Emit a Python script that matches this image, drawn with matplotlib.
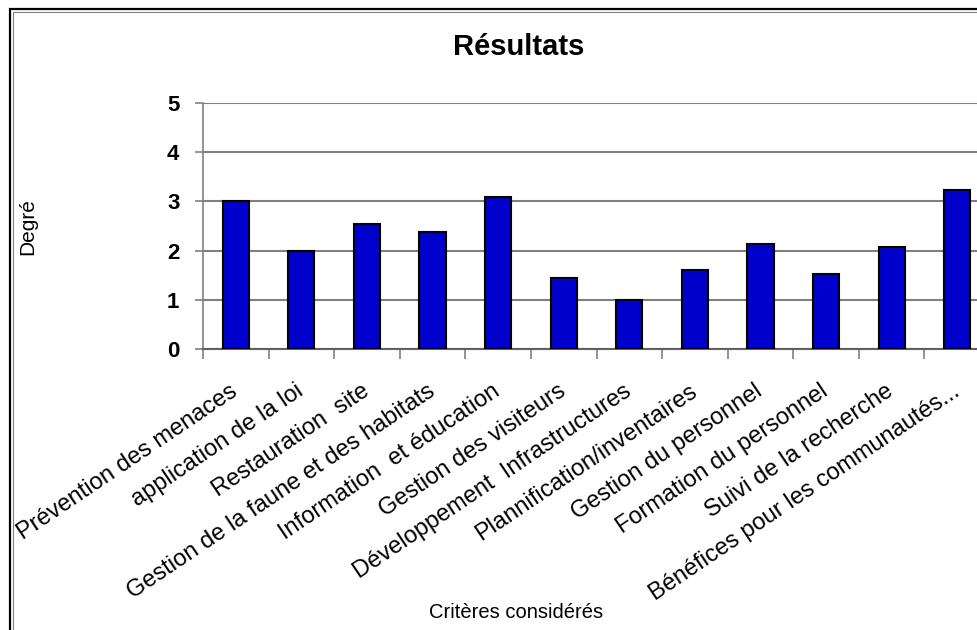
import matplotlib.pyplot as plt
from matplotlib.patches import Rectangle

# Criteria and their scores
criteres = [
    "Prévention des menaces",
    "application de la loi",
    "Restauration  site",
    "Gestion de la faune et des habitats",
    "Information  et éducation",
    "Gestion des visiteurs",
    "Développement  Infrastructures",
    "Plannification/inventaires",
    "Gestion du personnel",
    "Formation du personnel",
    "Suivi de la recherche",
    "Bénéfices pour les communautés...",
]
degres = [3.0, 2.0, 2.55, 2.38, 3.08, 1.45, 1.0, 1.61, 2.14, 1.53, 2.07, 3.24]
y_ticks = [0, 1, 2, 3, 4, 5]

plt.rcParams['font.family'] = ['Liberation Sans', 'DejaVu Sans']

W, H = 978, 630
fig = plt.figure(figsize=(W / 100, H / 100), dpi=100)

# chart frame (double line, runs off the right and bottom edges)
fig.patches.append(Rectangle((10 / W, -0.5), 2.0, 1.5 - 9 / H,
                             transform=fig.transFigure, fill=False,
                             edgecolor='black', linewidth=1.6))
fig.patches.append(Rectangle((13 / W, -0.5), 2.0, 1.5 - 12 / H,
                             transform=fig.transFigure, fill=False,
                             edgecolor='#808080', linewidth=0.8))

ax = fig.add_axes([203 / W, 1 - 349 / H, 787 / W, 246 / H])
ax.set_facecolor('white')

x = list(range(len(criteres)))
ax.bar(x, degres, width=0.4, color='#0000CC', edgecolor='black',
       linewidth=1.5, zorder=3)

ax.set_xlim(-0.5, len(criteres) - 0.5)
ax.set_ylim(0, 5)
ax.set_yticks(y_ticks)
ax.set_yticklabels([str(v) for v in y_ticks], fontsize=16, fontweight='bold')
ax.yaxis.grid(True, color='#808080', linewidth=1.5, zorder=0)
ax.set_axisbelow(True)

for side in ['top', 'right']:
    ax.spines[side].set_visible(False)
ax.spines['left'].set_color('#808080')
ax.spines['bottom'].set_color('#606060')
ax.spines['left'].set_linewidth(1.2)
ax.spines['bottom'].set_linewidth(1.5)

ax.tick_params(axis='y', length=6, width=1.2, color='#808080', pad=11)

# labels centered under bars, ticks between categories
ax.set_xticks(x)
ax.set_xticklabels(criteres, rotation=34, ha='right', va='center',
                   rotation_mode='anchor', fontsize=17)
ax.set_xticks([i - 0.5 for i in x], minor=True)
ax.tick_params(axis='x', which='major', length=0, pad=29)
ax.tick_params(axis='x', which='minor', length=7, width=1.2, color='#808080')

fig.text(519 / W, 1 - 47 / H, "Résultats", ha='center', va='center',
         fontsize=21, fontweight='bold')
fig.text(28 / W, 1 - 227 / H, "Degré", ha='center', va='center',
         rotation=90, fontsize=15)
fig.text(516 / W, 1 - 612 / H, "Critères considérés", ha='center',
         va='center', fontsize=14.5)

fig.savefig("out.png", dpi=100)
